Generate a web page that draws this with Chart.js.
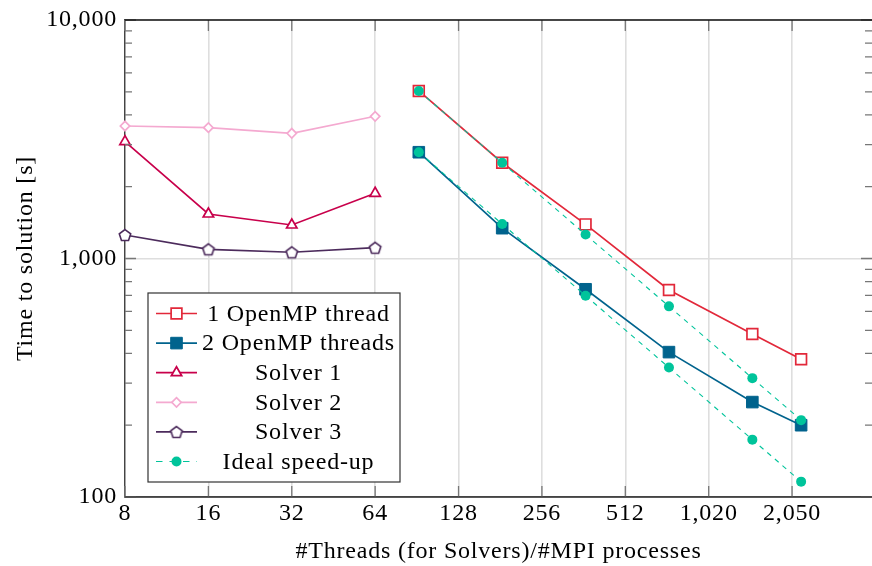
<!DOCTYPE html>
<html>
<head>
<meta charset="utf-8">
<script src="https://cdn.jsdelivr.net/npm/chart.js@4.4.1/dist/chart.umd.min.js"></script>
<style>
  html, body { margin: 0; padding: 0; background: #fff; overflow: hidden; }
  #wrap { width: 872px; height: 566px; }
</style>
</head>
<body>
<div id="wrap"><canvas id="speedup-canvas"></canvas></div>
<script>
// x values
const solverThreads = [8, 16, 32, 64];
const mpiProcesses = [92, 184, 368, 736, 1472, 2208];

// time to solution [s]
const oneThread = [5040, 2520, 1390, 738, 482, 378];
const twoThreads = [2790, 1340, 743, 405, 250, 200];
const solver1 = [3090, 1537, 1382, 1877];
const solver2 = [3594, 3537, 3350, 3947];
const solver3 = [1255, 1093, 1062, 1110];
const idealOne = [5040, 2520, 1260, 630, 315, 210];
const idealTwo = [2790, 1395, 698, 349, 174, 116];

// ticks
const xTickValues = [8, 16, 32, 64, 128, 256, 512, 1024, 2048];
const xTickLabels = ['8', '16', '32', '64', '128', '256', '512', '1,020', '2,050'];
const yMajorValues = [100, 1000, 10000];
const yMajorLabels = ['100', '1,000', '10,000'];
const yMinorValues = [200, 300, 400, 500, 600, 700, 800, 900,
                      2000, 3000, 4000, 5000, 6000, 7000, 8000, 9000];

const RED = '#e2283a';
const BLUE = '#00638d';
const CRIMSON = '#c8004b';
const PINK = '#f4a9d0';
const PURPLE = '#4c2b5c';
const TEAL = '#00c49b';

const FONT = "'Liberation Serif', 'Times New Roman', serif";
const SPACING = '0.8px';
Chart.defaults.font.family = FONT;
Chart.defaults.font.size = 24;
Chart.defaults.color = '#000';

const pts = (xs, ys) => xs.map((x, i) => ({x: x, y: ys[i]}));

const makePentagon = (color) => {
    const c = document.createElement('canvas');
    c.width = 16; c.height = 16;
    const g = c.getContext('2d');
    g.beginPath();
    for (let i = 0; i < 5; i++) {
        const a = -Math.PI / 2 + i * 2 * Math.PI / 5;
        const px = 8 + 6 * Math.cos(a), py = 8.6 + 6 * Math.sin(a);
        if (i === 0) g.moveTo(px, py); else g.lineTo(px, py);
    }
    g.closePath();
    g.fillStyle = '#fff';
    g.fill();
    g.lineWidth = 1.6;
    g.strokeStyle = color;
    g.stroke();
    return c;
};

// a little wider text, closer to the LaTeX look
const textSpacing = {
    id: 'textSpacing',
    beforeDraw(chart) { chart.ctx.letterSpacing = SPACING; }
};

// inward tick marks and the frame lines
const frameTicks = {
    id: 'frameTicks',
    afterDatasetsDraw(chart) {
        const {ctx, chartArea: a, scales: {x, y}} = chart;
        ctx.save();
        ctx.strokeStyle = '#777';
        ctx.lineWidth = 1.3;
        ctx.beginPath();
        xTickValues.forEach(v => {
            const px = x.getPixelForValue(v);
            ctx.moveTo(px, a.bottom); ctx.lineTo(px, a.bottom - 11);
            ctx.moveTo(px, a.top); ctx.lineTo(px, a.top + 11);
        });
        const yTick = (v, len) => {
            const py = y.getPixelForValue(v);
            ctx.moveTo(a.left, py); ctx.lineTo(a.left + len, py);
            ctx.moveTo(a.right, py); ctx.lineTo(a.right - len, py);
        };
        yMajorValues.forEach(v => yTick(v, 11));
        yMinorValues.forEach(v => yTick(v, 7));
        ctx.stroke();
        ctx.strokeStyle = '#111';
        ctx.lineWidth = 1.4;
        ctx.beginPath();
        ctx.moveTo(a.left, a.top);
        ctx.lineTo(a.right, a.top);
        ctx.stroke();
        ctx.strokeStyle = '#444';
        ctx.beginPath();
        ctx.moveTo(a.left, a.bottom);
        ctx.lineTo(a.right, a.bottom);
        ctx.stroke();
        ctx.restore();
    }
};

// legend box inside the plot, text centred in its column
const boxLegend = {
    id: 'boxLegend',
    afterDraw(chart) {
        const ctx = chart.ctx;
        const box = {left: 148, top: 293, right: 400, bottom: 482};
        ctx.save();
        ctx.fillStyle = '#fff';
        ctx.fillRect(box.left, box.top, box.right - box.left, box.bottom - box.top);
        ctx.strokeStyle = '#333';
        ctx.lineWidth = 1.2;
        ctx.strokeRect(box.left, box.top, box.right - box.left, box.bottom - box.top);
        const items = chart.data.datasets.filter(ds => ds.inLegend !== false);
        items.forEach((ds, i) => {
            const cy = 313.5 + i * 29.6;
            ctx.strokeStyle = ds.borderColor;
            ctx.lineWidth = ds.borderWidth;
            ctx.setLineDash(ds.borderDash ? [6.5, 7] : []);
            ctx.beginPath();
            ctx.moveTo(156, cy);
            ctx.lineTo(197, cy);
            ctx.stroke();
            ctx.setLineDash([]);
            ctx.fillStyle = ds.pointBackgroundColor;
            ctx.strokeStyle = ds.pointBorderColor;
            ctx.lineWidth = ds.pointBorderWidth;
            Chart.helpers.drawPoint(ctx, {
                pointStyle: ds.pointStyle, radius: ds.pointRadius,
                borderWidth: ds.pointBorderWidth, rotation: 0
            }, 176.5, cy);
            ctx.fillStyle = '#000';
            ctx.font = '24px ' + FONT;
            ctx.letterSpacing = SPACING;
            ctx.textAlign = 'center';
            ctx.textBaseline = 'middle';
            ctx.fillText(ds.label, 298.5, cy + 1);
        });
        ctx.restore();
    }
};

const datasets = [
    {
        label: '1 OpenMP thread', data: pts(mpiProcesses, oneThread),
        borderColor: RED, borderWidth: 1.7,
        pointStyle: 'rect', pointRadius: 7.6, pointBackgroundColor: '#fff',
        pointBorderColor: RED, pointBorderWidth: 1.7, order: 1
    },
    {
        label: '2 OpenMP threads', data: pts(mpiProcesses, twoThreads),
        borderColor: BLUE, borderWidth: 1.7,
        pointStyle: 'rect', pointRadius: 8.2, pointBackgroundColor: BLUE,
        pointBorderColor: BLUE, pointBorderWidth: 1, order: 1
    },
    {
        label: 'Solver 1', data: pts(solverThreads, solver1),
        borderColor: CRIMSON, borderWidth: 1.7,
        pointStyle: 'triangle', pointRadius: 6, pointBackgroundColor: '#fff',
        pointBorderColor: CRIMSON, pointBorderWidth: 1.7, order: 1
    },
    {
        label: 'Solver 2', data: pts(solverThreads, solver2),
        borderColor: PINK, borderWidth: 1.7,
        pointStyle: 'rectRot', pointRadius: 4.7, pointBackgroundColor: '#fff',
        pointBorderColor: PINK, pointBorderWidth: 1.7, order: 1
    },
    {
        label: 'Solver 3', data: pts(solverThreads, solver3),
        borderColor: PURPLE, borderWidth: 1.7,
        pointStyle: makePentagon(PURPLE), pointRadius: 6, pointBackgroundColor: '#fff',
        pointBorderColor: PURPLE, pointBorderWidth: 1.6, order: 1
    },
    {
        label: 'Ideal speed-up', data: pts(mpiProcesses, idealOne),
        borderColor: TEAL, borderWidth: 1.1, borderDash: [5, 5],
        pointStyle: 'circle', pointRadius: 5, pointBackgroundColor: TEAL,
        pointBorderColor: TEAL, pointBorderWidth: 0, order: -1
    },
    {
        label: 'Ideal speed-up', data: pts(mpiProcesses, idealTwo), inLegend: false,
        borderColor: TEAL, borderWidth: 1.1, borderDash: [5, 5],
        pointStyle: 'circle', pointRadius: 5, pointBackgroundColor: TEAL,
        pointBorderColor: TEAL, pointBorderWidth: 0, order: -1
    }
];

new Chart(document.getElementById('speedup-canvas'), {
    type: 'line',
    data: {datasets: datasets},
    plugins: [textSpacing, frameTicks, boxLegend],
    options: {
        responsive: true,
        maintainAspectRatio: false,
        devicePixelRatio: 1,
        animation: false,
        events: [],
        layout: {autoPadding: false, padding: {top: 20, right: 0, left: 0, bottom: 0}},
        datasets: {line: {clip: false, tension: 0, fill: false}},
        plugins: {legend: {display: false}, tooltip: {enabled: false}},
        scales: {
            x: {
                type: 'logarithmic', min: 8, max: 3980,
                afterBuildTicks: (s) => { s.ticks = xTickValues.map(v => ({value: v})); },
                afterFit: (s) => { s.height = 69; s.paddingLeft = 0; s.paddingRight = 0; },
                ticks: {
                    autoSkip: false, maxRotation: 0, minRotation: 0, padding: 2,
                    callback: (v) => { const i = xTickValues.indexOf(v); return i < 0 ? '' : xTickLabels[i]; }
                },
                grid: {color: '#dedede', lineWidth: 1.6, drawTicks: false},
                border: {display: true, color: '#444', width: 1.4},
                title: {display: true, text: '#Threads (for Solvers)/#MPI processes', padding: {top: 0, bottom: 0}}
            },
            y: {
                type: 'logarithmic', min: 100, max: 10000,
                afterBuildTicks: (s) => { s.ticks = yMajorValues.map(v => ({value: v})); },
                afterFit: (s) => { s.width = 125; s.paddingTop = 0; s.paddingBottom = 0; },
                ticks: {
                    autoSkip: false, padding: 8,
                    callback: (v) => { const i = yMajorValues.indexOf(v); return i < 0 ? '' : yMajorLabels[i]; }
                },
                grid: {color: '#dedede', lineWidth: 1.6, drawTicks: false},
                border: {display: true, color: '#444', width: 1.4},
                title: {display: true, text: 'Time to solution [s]', padding: {top: 11, bottom: 0}}
            }
        }
    }
});
</script>
</body>
</html>
